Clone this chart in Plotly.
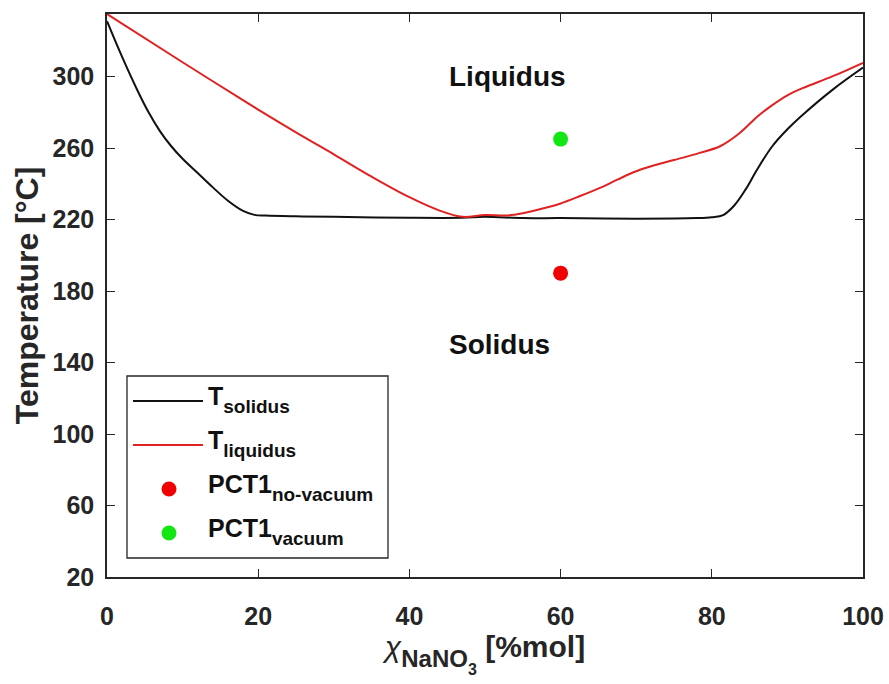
import plotly.graph_objects as go

# Solidus curve (NaNO3 mol% vs temperature)
x_solidus = [0, 2, 4, 5.5, 7, 8.5, 10, 12, 14, 16, 18, 19.5, 21, 25, 30, 40, 47,
             50, 55, 60, 70, 78, 80, 81.5, 83, 84.5, 86, 88, 90, 92, 96, 100]
t_solidus = [331, 311, 292.5, 280, 269.5, 261, 254, 246, 238, 230.5, 224.8, 222.6,
             222.2, 221.8, 221.5, 221, 221, 221.5, 220.8, 220.8, 220.5, 220.8, 221.3,
             222.5, 228, 237, 248, 261, 270.5, 278.5, 292.7, 305]

# Liquidus curve
x_liquidus = [0, 10, 20, 25.5, 30, 35, 40, 44, 47, 50, 53, 55, 57.5, 60, 62.5, 65.2, 67.5,
              70, 72.5, 75, 78.4, 81.1, 83.7, 86, 88, 90, 92, 96, 100]
t_liquidus = [335, 308, 281.5, 267.5, 256.5, 244, 232.5, 225, 221.5, 222.5, 222.3, 223.5,
              226, 229, 233, 237.7, 242.3, 247, 250.5, 253.3, 257.3, 261, 268.4, 277.5,
              284, 289.5, 293.5, 300.2, 307.7]

# Measured PCT1 samples
pct1_x = [60]
pct1_novac_t = [190]
pct1_vac_t = [265]

# Axis ticks
x_ticks = [0, 20, 40, 60, 80, 100]
y_ticks = [20, 60, 100, 140, 180, 220, 260, 300]

# Region labels
region_labels = ["Liquidus", "Solidus"]
region_x = [45, 45]
region_t = [300, 150]

FONT = "Liberation Sans, Arial, sans-serif"
AX = "#262626"
LINE_RED = "#e02222"
DOT_RED = "#f00000"
DOT_GREEN = "#14e614"

fig = go.Figure()
fig.add_trace(go.Scatter(x=x_solidus, y=t_solidus, mode="lines",
                         line=dict(color="#111111", width=2, shape="spline", smoothing=1.0),
                         name="T<sub>solidus</sub>", showlegend=False))
fig.add_trace(go.Scatter(x=x_liquidus, y=t_liquidus, mode="lines",
                         line=dict(color=LINE_RED, width=2, shape="spline", smoothing=1.0),
                         name="T<sub>liquidus</sub>", showlegend=False))
fig.add_trace(go.Scatter(x=pct1_x, y=pct1_novac_t, mode="markers",
                         marker=dict(color=DOT_RED, size=15),
                         name="PCT1<sub>no-vacuum</sub>", showlegend=False))
fig.add_trace(go.Scatter(x=pct1_x, y=pct1_vac_t, mode="markers",
                         marker=dict(color=DOT_GREEN, size=15),
                         name="PCT1<sub>vacuum</sub>", showlegend=False))

for txt, xv, tv in zip(region_labels, region_x, region_t):
    fig.add_annotation(x=xv, y=tv, text=txt, showarrow=False, xanchor="left",
                       yanchor="middle",
                       font=dict(family=FONT, size=28, color="#111111", weight="bold"))

# Legend box drawn in paper coordinates
W, H = 889, 684
L, R, T, B = 107, 26, 14, 107
pw, ph = W - L - R, H - T - B


def px(xp):
    return (xp - L) / pw


def py(yp):
    return (H - B - yp) / ph


fig.add_shape(type="rect", xref="paper", yref="paper",
              x0=px(127), x1=px(388), y0=py(558), y1=py(376),
              line=dict(color=AX, width=1.3), fillcolor="white", layer="above")


def sub(s):
    return ("<sub><span style='font-size:19px;baseline-shift:-3px'>" + s +
            "</span></sub>")


legend_items = [
    ("line", "#111111", "T" + sub("solidus"), 401),
    ("line", LINE_RED, "T" + sub("liquidus"), 445),
    ("dot", DOT_RED, "PCT1" + sub("no-vacuum"), 489),
    ("dot", DOT_GREEN, "PCT1" + sub("vacuum"), 533),
]
for kind, col, label, yp in legend_items:
    if kind == "line":
        fig.add_shape(type="line", xref="paper", yref="paper",
                      x0=px(133), x1=px(203), y0=py(yp), y1=py(yp),
                      line=dict(color=col, width=2), layer="above")
    else:
        fig.add_shape(type="circle", xref="paper", yref="paper",
                      xsizemode="pixel", ysizemode="pixel",
                      xanchor=px(169), yanchor=py(yp),
                      x0=-7.5, x1=7.5, y0=-7.5, y1=7.5,
                      line=dict(width=0), fillcolor=col, layer="above")
    fig.add_annotation(xref="paper", yref="paper", x=px(206), y=py(yp - 2),
                       text=label, showarrow=False, xanchor="left", yanchor="middle",
                       align="left",
                       font=dict(family=FONT, size=25, color="#111111", weight="bold"))

axis_common = dict(
    showline=True, linecolor=AX, linewidth=1.5, mirror="allticks",
    ticks="inside", ticklen=8, tickwidth=1.2, tickcolor=AX,
    showgrid=False, zeroline=False, automargin=False,
    tickfont=dict(family=FONT, size=25, color=AX, weight="bold"),
)

x_title = ("<span style='font-weight:normal'><i>χ</i></span>"
           "<sub><span style='font-size:24px;baseline-shift:-4px'>NaNO</span>"
           "<span style='font-size:16px;baseline-shift:-12px'>3</span></sub> [%mol]")

fig.update_layout(
    width=W, height=H,
    margin=dict(l=L, r=R, t=T, b=B),
    paper_bgcolor="white", plot_bgcolor="white",
    showlegend=False,
    xaxis=dict(range=[0, 100], tickvals=x_ticks, ticklabelstandoff=16,
               title=dict(text=x_title, standoff=4,
                          font=dict(family=FONT, size=30, color=AX, weight="bold")),
               **axis_common),
    yaxis=dict(range=[20, 335], tickvals=y_ticks, ticklabelstandoff=6,
               title=dict(text="Temperature [°C]", standoff=4,
                          font=dict(family=FONT, size=32, color=AX, weight="bold")),
               **axis_common),
)

fig.write_html("out.html")
